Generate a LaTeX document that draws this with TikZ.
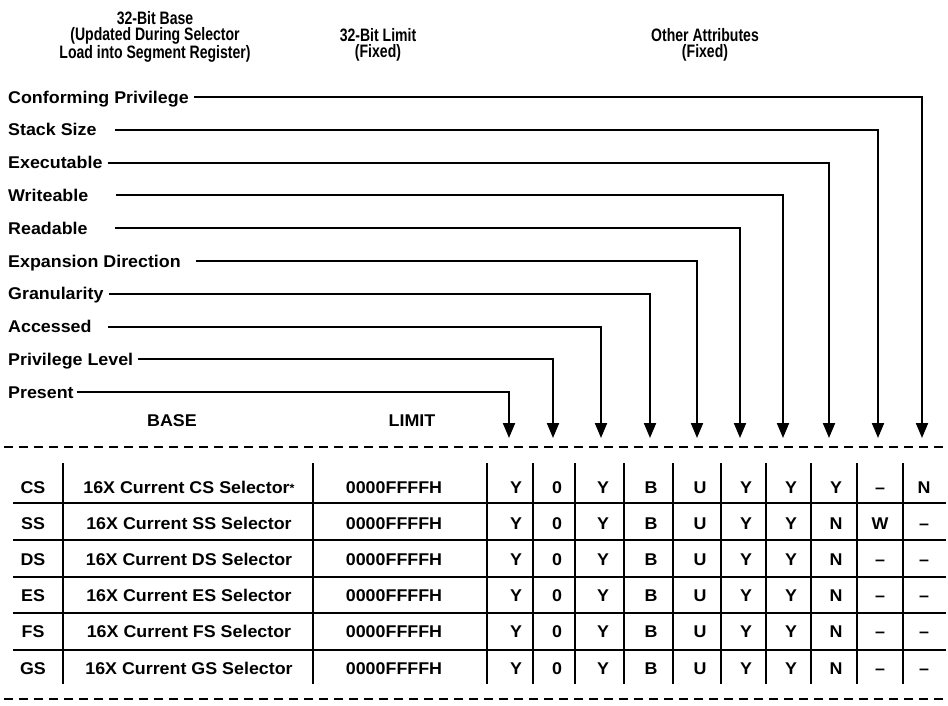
\documentclass[tikz,border=0pt]{standalone}
\usepackage{fontspec}
\setmainfont[FakeStretch=1.05,UprightFont={* Bold}]{Liberation Sans}
\newfontfamily\hdrfont[FakeStretch=0.78,UprightFont={* Bold}]{Liberation Sans}
\usetikzlibrary{arrows.meta}
\begin{document}
\begin{tikzpicture}[x=1pt,y=-1pt,
  lbl/.style={anchor=base west, inner sep=0pt, font=\fontsize{17}{17}\selectfont},
  cell/.style={anchor=base, inner sep=0pt, font=\fontsize{17}{17}\selectfont},
  hdr/.style={align=center, anchor=north, inner sep=0pt, font=\hdrfont\fontsize{18}{16.5}\selectfont},
  conn/.style={line width=2pt, -{Triangle[length=15pt,width=12pt]}},
  rulel/.style={line width=2pt},
  dashl/.style={line width=2pt, dash pattern=on 9pt off 6pt}]

\useasboundingbox (0,0) rectangle (948,705);

% headers
\node[hdr] (hbase) at (155,11) {32-Bit Base\\(Updated During Selector\\Load into Segment Register)};
\node[hdr] (hlimit) at (378,28) {32-Bit Limit\\(Fixed)};
\node[hdr] (hother) at (705,28) {Other Attributes\\(Fixed)};

% attribute labels and connectors
\foreach \i/\txt/\gap/\tx in {
  0/Conforming Privilege/5/922,
  1/Stack Size/18/878,
  2/Executable/5/829,
  3/Writeable/28/783,
  4/Readable/27/740,
  5/Expansion Direction/15/697,
  6/Granularity/5/650,
  7/Accessed/16/601,
  8/Privilege Level/5/553,
  9/Present/3/509}{
  \pgfmathsetmacro{\yy}{97+32.8*\i}
  \node[lbl] (l\i) at (8,\yy+6) {\txt};
  \coordinate (s\i) at ([xshift=\gap pt]l\i.east |- 0,\yy);
  \coordinate (t\i) at (\tx,438);
  \draw[conn] (s\i) -| (t\i);
}

% column headings
\node[cell] (hB) at (172,426) {BASE};
\node[cell] (hL) at (412,426) {LIMIT};

% dashed rules
\coordinate (d1a) at (4,447);
\coordinate (d1b) at (946,447);
\coordinate (d2a) at (4,699);
\coordinate (d2b) at (946,699);
\draw[dashl] (d1a) -- (d1b);
\draw[dashl] (d2a) -- (d2b);

% table rules
\foreach \yy in {503,540,576.5,613,649.5}{
  \draw[rulel] (13,\yy) -- (946,\yy);
}
\foreach \xx in {63,313,487,533,575,624,673,721,766,811,857,903}{
  \draw[rulel] (\xx,463) -- (\xx,684);
}

% table contents
\foreach \r/\seg/\vals in {
  0/CS/{Y,0,Y,B,U,Y,Y,Y,\textendash,N},
  1/SS/{Y,0,Y,B,U,Y,Y,N,W,\textendash},
  2/DS/{Y,0,Y,B,U,Y,Y,N,\textendash,\textendash},
  3/ES/{Y,0,Y,B,U,Y,Y,N,\textendash,\textendash},
  4/FS/{Y,0,Y,B,U,Y,Y,N,\textendash,\textendash},
  5/GS/{Y,0,Y,B,U,Y,Y,N,\textendash,\textendash}}{
  \pgfmathsetmacro{\by}{493+36.2*\r}
  \node[cell] (seg\r) at (33,\by) {\seg};
  \node[cell] (base\r) at (189,\by) {16X Current \seg\ Selector\ifnum\r=0\raisebox{1pt}{\fontsize{12}{12}\selectfont*}\fi};
  \node[cell] (lim\r) at (394,\by) {0000FFFFH};
  \foreach \v [count=\c] in \vals {
    \pgfmathsetmacro{\cx}{{516,557,603,651,700,746,791,836,880,924}[\c-1]}
    \node[cell] (v\r-\c) at (\cx,\by) {\v};
  }
}
\end{tikzpicture}
\end{document}
